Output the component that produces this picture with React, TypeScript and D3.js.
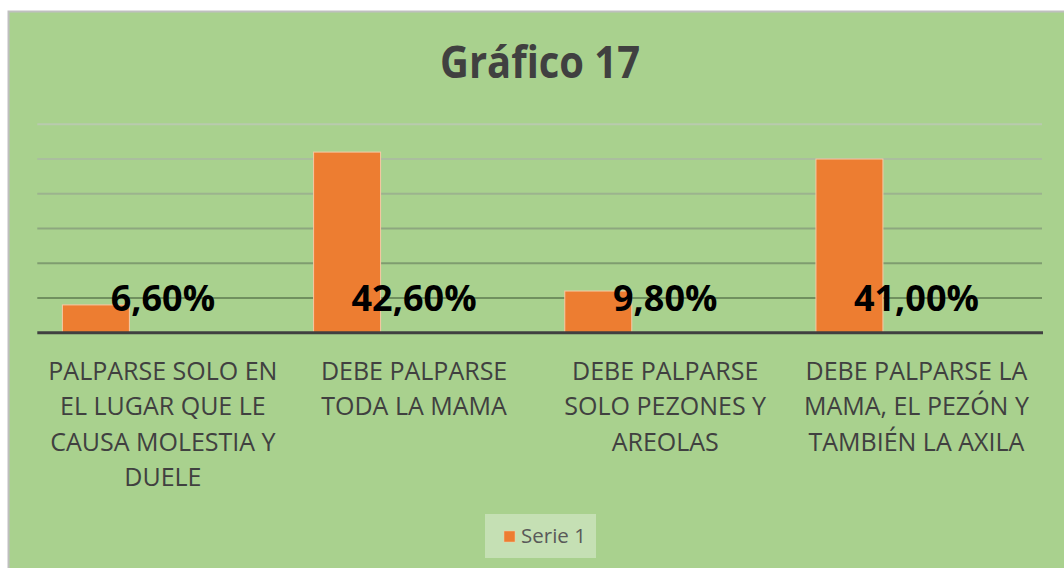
import React, { useEffect, useRef } from "react";
import * as d3 from "d3";

// chart data
const categories = [
	"PALPARSE SOLO EN EL LUGAR QUE LE CAUSA MOLESTIA Y DUELE",
	"DEBE PALPARSE TODA LA MAMA",
	"DEBE PALPARSE SOLO PEZONES Y AREOLAS",
	"DEBE PALPARSE LA MAMA, EL PEZÓN Y TAMBIÉN LA AXILA",
];
// wrapped tick labels as they appear in the picture
const categoryLines = [
	["PALPARSE SOLO EN", "EL LUGAR QUE LE", "CAUSA MOLESTIA Y", "DUELE"],
	["DEBE PALPARSE", "TODA LA MAMA"],
	["DEBE PALPARSE", "SOLO PEZONES Y", "AREOLAS"],
	["DEBE PALPARSE LA", "MAMA, EL PEZÓN Y", "TAMBIÉN LA AXILA"],
];
// the workbook has three series slots, only Serie 1 has values
const seriesNames = ["Serie 1", "Serie 2", "Serie 3"];
const serie1 = [4, 26, 6, 25];
const dataLabels = ["6,60%", "42,60%", "9,80%", "41,00%"];
const yTicks = [0, 5, 10, 15, 20, 25, 30];

const FONT = "'Open Sans', 'DejaVu Sans', sans-serif";

export default function App() {
	const svgRef = useRef<SVGSVGElement | null>(null);

	useEffect(() => {
		if (!svgRef.current) return;
		const width = 1064;
		const height = 568;
		const plot = { left: 37.3, right: 1042, top: 124.3, bottom: 332.7 };

		const svg = d3.select(svgRef.current);
		svg.selectAll("*").remove();

		// chart area
		svg
			.append("rect")
			.attr("x", 8.5)
			.attr("y", 11.5)
			.attr("width", width)
			.attr("height", height)
			.attr("fill", "#a9d18e")
			.attr("stroke", "#bfbfbf")
			.attr("stroke-width", 2);

		// title
		svg
			.append("text")
			.attr("x", 540)
			.attr("y", 78)
			.attr("text-anchor", "middle")
			.attr("font-family", FONT)
			.attr("font-weight", 700)
			.attr("font-size", 44)
			.attr("fill", "#404040")
			.attr("textLength", 200)
			.attr("lengthAdjust", "spacingAndGlyphs")
			.text("Gráfico 17");

		const x = d3.scaleBand<string>().domain(categories).range([plot.left, plot.right]).padding(0);
		const xs = d3
			.scaleBand<string>()
			.domain(seriesNames)
			.range([0, x.bandwidth()])
			.paddingInner(0)
			.paddingOuter(0.375);
		const y = d3.scaleLinear().domain([0, 30]).range([plot.bottom, plot.top]);

		// gridlines, getting darker toward the bottom
		const gridColor = d3.interpolateRgb("#70905f", "#b9caae");
		svg
			.append("g")
			.selectAll("line")
			.data(yTicks.filter((t) => t > 0))
			.enter()
			.append("line")
			.attr("x1", plot.left)
			.attr("x2", plot.right)
			.attr("y1", (d) => y(d))
			.attr("y2", (d) => y(d))
			.attr("stroke", (d, i) => gridColor(i / (yTicks.length - 2)))
			.attr("stroke-width", 2);

		// bars
		svg
			.append("g")
			.selectAll("rect")
			.data(serie1)
			.enter()
			.append("rect")
			.attr("x", (d, i) => x(categories[i])! + xs("Serie 1")!)
			.attr("y", (d) => y(d))
			.attr("width", xs.bandwidth())
			.attr("height", (d) => y(0) - y(d))
			.attr("fill", "#ed7d31")
			.attr("stroke", "#f6c9a5")
			.attr("stroke-width", 1);

		// baseline axis
		svg
			.append("line")
			.attr("x1", plot.left)
			.attr("x2", plot.right + 1)
			.attr("y1", y(0))
			.attr("y2", y(0))
			.attr("stroke", "#404040")
			.attr("stroke-width", 3);

		// data labels
		svg
			.append("g")
			.selectAll("text")
			.data(dataLabels)
			.enter()
			.append("text")
			.attr("x", (d, i) => x(categories[i])! + x.bandwidth() / 2)
			.attr("y", y(5) + 13)
			.attr("text-anchor", "middle")
			.attr("font-family", FONT)
			.attr("font-weight", 700)
			.attr("font-size", 36)
			.attr("fill", "#000000")
			.text((d) => d);

		// category labels
		const cats = svg
			.append("g")
			.selectAll("text")
			.data(categoryLines)
			.enter()
			.append("text")
			.attr("text-anchor", "middle")
			.attr("font-family", FONT)
			.attr("font-size", 25)
			.attr("fill", "#404040");
		cats
			.selectAll("tspan")
			.data((d, i) => d.map((line) => ({ line, i })))
			.enter()
			.append("tspan")
			.attr("x", (d) => x(categories[d.i])! + x.bandwidth() / 2)
			.attr("y", (d, j) => y(0) + 47 + j * 35.5)
			.text((d) => d.line);

		// legend
		const legend = svg.append("g");
		legend
			.append("rect")
			.attr("x", 485)
			.attr("y", 514)
			.attr("width", 111)
			.attr("height", 44)
			.attr("fill", "#c5e0b4");
		legend
			.append("rect")
			.attr("x", 504)
			.attr("y", 531)
			.attr("width", 11)
			.attr("height", 11)
			.attr("fill", "#ed7d31")
			.attr("stroke", "#f6c9a5")
			.attr("stroke-width", 0.5);
		legend
			.append("text")
			.attr("x", 521)
			.attr("y", 543)
			.attr("font-family", FONT)
			.attr("font-size", 20.5)
			.attr("fill", "#595959")
			.text("Serie 1");
	}, []);

	return (
		<svg
			ref={svgRef}
			width={1064}
			height={568}
			style={{ position: "absolute", left: 0, top: 0, display: "block" }}
		/>
	);
}
